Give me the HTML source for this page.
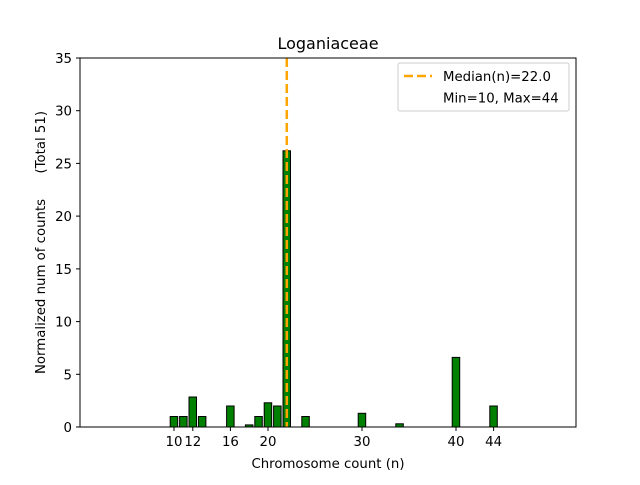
<!DOCTYPE html><html><head><meta charset="utf-8"><style>body{margin:0;background:#fff}</style></head><body>
<svg width="640" height="480" xmlns="http://www.w3.org/2000/svg" font-family="DejaVu Sans, sans-serif" font-size="13.3">
<rect width="640" height="480" fill="#fff"/>
<g fill="#008000" stroke="#000" stroke-width="1">
<rect x="170.2" y="416.5" width="7.5" height="10.5"/>
<rect x="179.6" y="416.5" width="7.5" height="10.5"/>
<rect x="189" y="397" width="7.5" height="30"/>
<rect x="198.4" y="416.5" width="7.5" height="10.5"/>
<rect x="226.6" y="406" width="7.5" height="21"/>
<rect x="245.4" y="424.9" width="7.5" height="2.1"/>
<rect x="254.8" y="416.5" width="7.5" height="10.5"/>
<rect x="264.2" y="402.8" width="7.5" height="24.2"/>
<rect x="273.6" y="406" width="7.5" height="21"/>
<rect x="283" y="150.8" width="7.5" height="276.2"/>
<rect x="301.8" y="416.5" width="7.5" height="10.5"/>
<rect x="358.2" y="413.3" width="7.5" height="13.7"/>
<rect x="395.8" y="423.8" width="7.5" height="3.2"/>
<rect x="452.2" y="357.4" width="7.5" height="69.6"/>
<rect x="489.8" y="406" width="7.5" height="21"/>
</g>
<line x1="286.8" y1="58" x2="286.8" y2="427" stroke="#ffa500" stroke-width="2.5" stroke-dasharray="9,4"/>
<rect x="80" y="58" width="496" height="369" fill="none" stroke="#000" stroke-width="1"/>
<g stroke="#000">
<line x1="174" y1="427" x2="174" y2="431"/><line x1="192.8" y1="427" x2="192.8" y2="431"/><line x1="230.4" y1="427" x2="230.4" y2="431"/><line x1="268" y1="427" x2="268" y2="431"/><line x1="362" y1="427" x2="362" y2="431"/><line x1="456" y1="427" x2="456" y2="431"/><line x1="493.6" y1="427" x2="493.6" y2="431"/>
<line x1="76" y1="427" x2="80" y2="427"/><line x1="76" y1="374.3" x2="80" y2="374.3"/><line x1="76" y1="321.6" x2="80" y2="321.6"/><line x1="76" y1="268.9" x2="80" y2="268.9"/><line x1="76" y1="216.1" x2="80" y2="216.1"/><line x1="76" y1="163.4" x2="80" y2="163.4"/><line x1="76" y1="110.7" x2="80" y2="110.7"/><line x1="76" y1="58" x2="80" y2="58"/>
</g>
<g text-anchor="middle">
<text x="174" y="446">10</text><text x="192.8" y="446">12</text><text x="230.4" y="446">16</text><text x="268" y="446">20</text><text x="362" y="446">30</text><text x="456" y="446">40</text><text x="493.6" y="446">44</text>
<text x="328" y="468">Chromosome count (n)</text>
<text x="328" y="49" font-size="16">Loganiaceae</text>
</g>
<g text-anchor="end">
<text x="72" y="432">0</text><text x="72" y="379.3">5</text><text x="72" y="326.5">10</text><text x="72" y="273.8">15</text><text x="72" y="221.1">20</text><text x="72" y="168.4">25</text><text x="72" y="115.7">30</text><text x="72" y="63">35</text>
</g>
<text transform="translate(45,242.5) rotate(-90)" text-anchor="middle" xml:space="preserve" style="white-space:pre">Normalized num of counts      (Total 51)</text>
<rect x="398" y="63" width="171" height="48" rx="2" fill="#fff" stroke="#ccc"/>
<line x1="404" y1="76" x2="432" y2="76" stroke="#ffa500" stroke-width="2.5" stroke-dasharray="9,4"/>
<text x="443" y="81">Median(n)=22.0</text>
<text x="443" y="102.5">Min=10, Max=44</text>
</svg>
</body></html>
